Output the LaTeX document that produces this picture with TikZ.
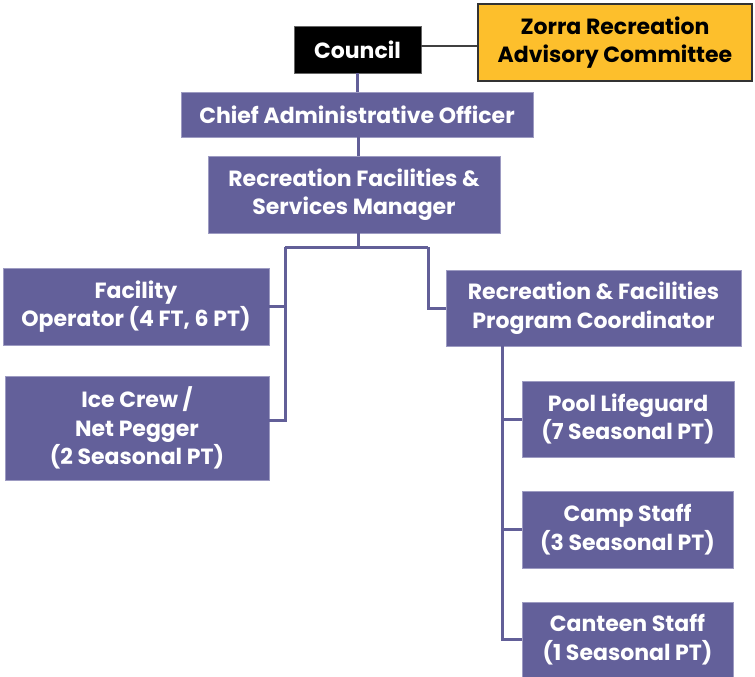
\documentclass[tikz,border=0pt]{standalone}
\usepackage{fontspec}
\setmainfont{Poppins}
\definecolor{boxpurple}{HTML}{63609A}
\definecolor{edgepurple}{HTML}{9D9BC2}
\definecolor{linepurple}{HTML}{625F98}
\definecolor{gold}{HTML}{FDBF2C}
\begin{document}
\begin{tikzpicture}[x=1pt,y=-1pt,
  box/.style={rectangle, inner sep=0pt, align=center, fill=boxpurple, draw=edgepurple, line width=0.6pt,
              text=white, font=\fontsize{22}{28.5}\selectfont\bfseries},
  conn/.style={draw=linepurple, line width=3pt},
  grayconn/.style={draw=black!75, line width=2.5pt}]
\useasboundingbox (0,0) rectangle (755,677);
\fill[white] (0,0) rectangle (755,677);

\node[box, fill=black, draw=black!60, minimum width=127pt, minimum height=47pt] (council) at (357.5,49.5) {Council};
\node[box, fill=gold, draw=black!80, line width=1.2pt, text=black, minimum width=274pt, minimum height=77pt] (zorra) at (615,42.5) {Zorra Recreation\\Advisory Committee};
\node[box, minimum width=352pt, minimum height=45pt] (cao) at (357,114.5) {Chief Administrative Officer};
\node[box, minimum width=292pt, minimum height=77pt] (rfsm) at (354,194.5) {Recreation Facilities \&\\Services Manager};
\node[box, minimum width=266pt, minimum height=77pt] (fo) at (136,306.5) {Facility\\Operator (4 FT, 6 PT)};
\node[box, minimum width=264pt, minimum height=104pt] (ice) at (137,428) {Ice Crew /\\Net Pegger\\(2 Seasonal PT)};
\node[box, minimum width=295pt, minimum height=76pt] (rfpc) at (593.5,308) {Recreation \& Facilities\\Program Coordinator};
\node[box, minimum width=212pt, minimum height=76pt] (pool) at (628,419) {Pool Lifeguard\\(7 Seasonal PT)};
\node[box, minimum width=211pt, minimum height=77pt] (camp) at (627.5,529.5) {Camp Staff\\(3 Seasonal PT)};
\node[box, minimum width=211pt, minimum height=75pt] (canteen) at (627.5,639.5) {Canteen Staff\\(1 Seasonal PT)};

\coordinate (j) at (358,247);
\coordinate (jl) at (285,247);
\coordinate (jr) at (428,247);
\coordinate (k) at (502,346);

\draw[grayconn] ([yshift=3.5pt]council.east) -- ([yshift=3.5pt]council.east -| zorra.west);
\draw[conn] (council.south) -- (council.south |- cao.north);
\draw[conn] (cao.south -| j) -- (j |- rfsm.north);
\draw[conn] (j |- rfsm.south) -- (j);
\draw[conn] (jl) -- (jr);
\draw[conn] (jl) |- ([yshift=8pt]ice.east);
\draw[conn] (fo.east) -- (fo.east -| jl);
\draw[conn] (jr) |- (rfpc.west);
\draw[conn] (k) |- (canteen.west);
\draw[conn] (k |- pool.west) -- (pool.west);
\draw[conn] (k |- camp.west) -- (camp.west);
\end{tikzpicture}
\end{document}
